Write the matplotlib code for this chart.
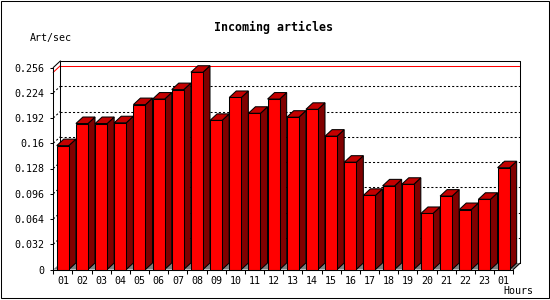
import matplotlib
matplotlib.use("Agg")
import matplotlib.pyplot as plt
from matplotlib.patches import Polygon, Rectangle

hours = ["01", "02", "03", "04", "05", "06", "07", "08", "09", "10", "11", "12",
         "13", "14", "15", "16", "17", "18", "19", "20", "21", "22", "23", "01"]
values = [0.157, 0.185, 0.185, 0.186, 0.209, 0.216, 0.228, 0.250, 0.189, 0.218,
          0.198, 0.216, 0.193, 0.203, 0.169, 0.136, 0.094, 0.106, 0.108, 0.071,
          0.093, 0.076, 0.089, 0.129]
yticks = [0, 0.032, 0.064, 0.096, 0.128, 0.16, 0.192, 0.224, 0.256]
ytick_labels = ["0", "0.032", "0.064", "0.096", "0.128", "0.16", "0.192", "0.224", "0.256"]

W, H = 550, 300
fig = plt.figure(figsize=(5.5, 3.0), dpi=100)
fig.patch.set_facecolor("white")

x0_px, y0_px, w_px, h_px = 53.3, 269.5, 460.0, 202.0
ax = fig.add_axes([x0_px / W, (H - y0_px) / H, w_px / W, h_px / H])
n = len(values)
ymax = yticks[-1]
ax.set_xlim(0, n)
ax.set_ylim(0, ymax)
ax.set_facecolor("none")

# 3D offsets in data units
dx = 7.0 / (w_px / n)
dy = 6.5 / (h_px / ymax)
lw = 0.75
mono = "DejaVu Sans Mono"

# floor
ax.add_patch(Polygon([(0, 0), (n, 0), (n + dx, dy), (dx, dy)], closed=True,
                     facecolor="#808080", edgecolor="none", zorder=1, clip_on=False))

# grid lines (back wall, dotted)
for v in yticks[1:-1]:
    ax.plot([0, dx], [v, v + dy], color="black", lw=lw,
            linestyle=(0, (2, 2)), zorder=2, clip_on=False)
    ax.plot([dx, n + dx], [v + dy, v + dy], color="black", lw=lw,
            linestyle=(0, (2, 2)), zorder=2, clip_on=False, snap=True)

# max line in red
vmax = max(values)
ax.plot([0, dx], [vmax, vmax + dy], color="#ff0000", lw=lw, zorder=2.5, clip_on=False)
ax.plot([dx, n + dx], [vmax + dy, vmax + dy], color="#ff0000", lw=lw,
        zorder=2.5, clip_on=False, snap=True)

# back wall frame
ax.plot([dx, dx, n + dx, n + dx], [dy, ymax + dy, ymax + dy, dy],
        color="black", lw=lw, zorder=2.6, clip_on=False, snap=True)
ax.plot([n + dx, n], [dy, 0], color="black", lw=lw, zorder=2.6, clip_on=False)
ax.plot([0, dx], [ymax, ymax + dy], color="black", lw=lw, zorder=2.6, clip_on=False)

# bars
off, bw = 0.18, 0.63
lefts = [i + off for i in range(n)]
ax.bar(lefts, values, width=bw, align="edge", color="#ff0000", edgecolor="black",
       linewidth=lw, zorder=5, clip_on=False)
for l, v in zip(lefts, values):
    r = l + bw
    side = Polygon([(r, 0), (r + dx, dy), (r + dx, v + dy), (r, v)], closed=True,
                   facecolor="#800000", edgecolor="black", linewidth=lw, zorder=4,
                   clip_on=False)
    top = Polygon([(l, v), (r, v), (r + dx, v + dy), (l + dx, v + dy)], closed=True,
                  facecolor="#c40000", edgecolor="black", linewidth=lw, zorder=4,
                  clip_on=False)
    ax.add_patch(side)
    ax.add_patch(top)

# axes/spines
for s in ["top", "right"]:
    ax.spines[s].set_visible(False)
for s in ["left", "bottom"]:
    ax.spines[s].set_linewidth(lw)
    ax.spines[s].set_zorder(6)

ax.set_yticks(yticks)
ax.set_yticklabels(ytick_labels, fontfamily=mono, fontsize=7.2)
ax.tick_params(axis="y", direction="out", length=2.3, width=lw, pad=4)

ax.set_xticks(range(n + 1))
ax.set_xticklabels([])
ax.set_xticks([i + 0.5 for i in range(n)], minor=True)
ax.set_xticklabels(hours, minor=True, fontfamily=mono, fontsize=7.2)
ax.tick_params(axis="x", which="major", direction="out", length=2.6, width=lw)
ax.tick_params(axis="x", which="minor", length=0, pad=4.5)

# texts
fig.text(273.5 / W, 1 - 27.5 / H, "Incoming articles", ha="center", va="center",
         fontfamily=mono, fontweight="bold", fontsize=8.4)
fig.text(29.5 / W, 1 - 38.5 / H, "Art/sec", ha="left", va="center",
         fontfamily=mono, fontsize=7.2)
fig.text(533.5 / W, 1 - 291.5 / H, "Hours", ha="right", va="center",
         fontfamily=mono, fontsize=7.2)

# outer border
fig.patches.append(Rectangle((0.5 / W, 1 - 297.5 / H), 548 / W, 297 / H,
                             transform=fig.transFigure, fill=False,
                             edgecolor="black", linewidth=lw))

fig.savefig("out.png", dpi=100)
